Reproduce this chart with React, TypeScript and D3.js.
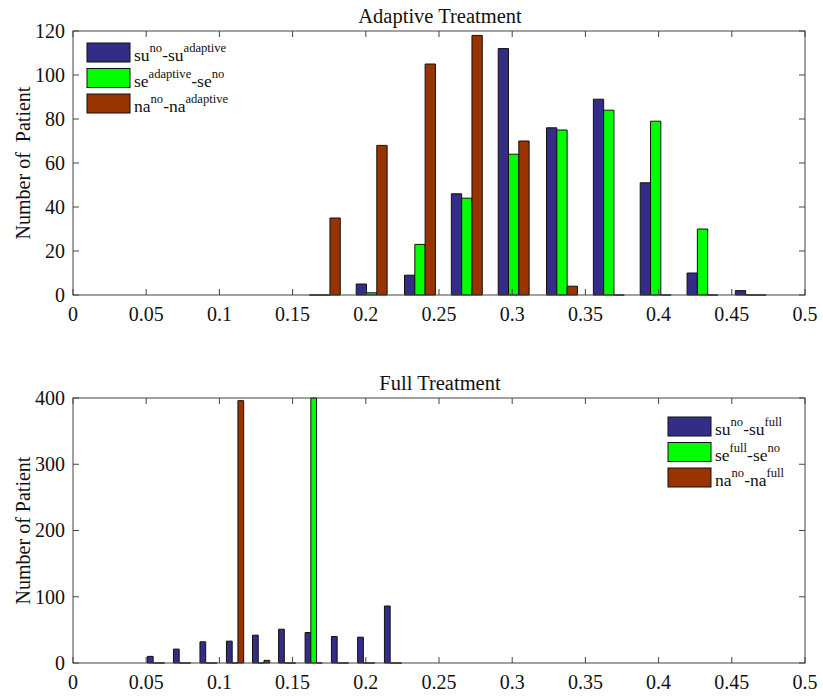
import React, { useRef, useEffect } from 'react';
import * as d3 from 'd3';

// bin centres and counts (400 patients per series)
const adaptiveBins = [0.172, 0.204, 0.237, 0.269, 0.301, 0.334, 0.366, 0.398, 0.430, 0.463];
const adaptiveSu = [0, 5, 9, 46, 112, 76, 89, 51, 10, 2];
const adaptiveSe = [0, 1, 23, 44, 64, 75, 84, 79, 30, 0];
const adaptiveNa = [35, 68, 105, 118, 70, 4, 0, 0, 0, 0];

const fullBins = [0.0567, 0.0745, 0.0926, 0.1107, 0.1285, 0.1463, 0.1644, 0.1824, 0.2003, 0.2186];
const fullSu = [10, 21, 32, 33, 42, 51, 46, 40, 39, 86];
const fullSe = [0, 0, 0, 0, 0, 0, 400, 0, 0, 0];
const fullNa = [0, 0, 0, 396, 4, 0, 0, 0, 0, 0];

const xTicks = [0, 0.05, 0.1, 0.15, 0.2, 0.25, 0.3, 0.35, 0.4, 0.45, 0.5];
const xTickLabels = ['0', '0.05', '0.1', '0.15', '0.2', '0.25', '0.3', '0.35', '0.4', '0.45', '0.5'];
const adaptiveYTicks = [0, 20, 40, 60, 80, 100, 120];
const fullYTicks = [0, 100, 200, 300, 400];

const adaptiveLegend = [
  ['su', 'no', '-su', 'adaptive'],
  ['se', 'adaptive', '-se', 'no'],
  ['na', 'no', '-na', 'adaptive'],
];
const fullLegend = [
  ['su', 'no', '-su', 'full'],
  ['se', 'full', '-se', 'no'],
  ['na', 'no', '-na', 'full'],
];

const colors = ['#332d88', '#00ff00', '#993300'];
const FONT = "'Liberation Serif', 'DejaVu Serif', serif";

const App = () => {
  const svgRef = useRef(null);

  useEffect(() => {
    const svg = d3.select(svgRef.current);
    svg.selectAll('*').remove();

    const left = 73, right = 805;
    const x = d3.scaleLinear().domain([0, 0.5]).range([left, right]);

    const drawPanel = (opts) => {
      const { top, bottom, yMax, yTicks, bins, series, title, ylabel, legend, legendX, legendY } = opts;
      const y = d3.scaleLinear().domain([0, yMax]).range([bottom, top]);
      const g = svg.append('g');

      // bars: 3 per bin, MATLAB grouped style
      const bw = (x(bins[1]) - x(bins[0])) * 0.22;
      series.forEach((vals, k) => {
        g.selectAll(null)
          .data(vals)
          .enter()
          .append('path')
          .attr('d', (v, i) => {
            const cx = x(bins[i]) + (k - 1) * bw;
            const x0 = cx - bw / 2;
            const yt = y(Math.min(v, yMax));
            return `M${x0},${bottom}H${x0 + bw}V${yt}H${x0}Z`;
          })
          .attr('fill', colors[k])
          .attr('stroke', '#111')
          .attr('stroke-width', 1);
      });

      // box
      g.append('rect')
        .attr('x', left).attr('y', top)
        .attr('width', right - left).attr('height', bottom - top)
        .attr('fill', 'none').attr('stroke', '#444').attr('stroke-width', 1);

      const tl = 6;
      // x ticks (bottom and top, inward)
      xTicks.forEach((t, i) => {
        g.append('line').attr('x1', x(t)).attr('x2', x(t)).attr('y1', bottom).attr('y2', bottom - tl)
          .attr('stroke', '#444');
        g.append('line').attr('x1', x(t)).attr('x2', x(t)).attr('y1', top).attr('y2', top + tl)
          .attr('stroke', '#444');
        g.append('text')
          .attr('x', x(t)).attr('y', bottom + 26)
          .attr('text-anchor', 'middle')
          .attr('font-family', FONT).attr('font-size', 20).attr('fill', '#111')
          .text(xTickLabels[i]);
      });

      // y ticks
      yTicks.forEach((t) => {
        g.append('line').attr('x1', left).attr('x2', left + tl).attr('y1', y(t)).attr('y2', y(t))
          .attr('stroke', '#444');
        g.append('line').attr('x1', right).attr('x2', right - tl).attr('y1', y(t)).attr('y2', y(t))
          .attr('stroke', '#444');
        g.append('text')
          .attr('x', left - 8).attr('y', y(t)).attr('dy', '0.34em')
          .attr('text-anchor', 'end')
          .attr('font-family', FONT).attr('font-size', 20).attr('fill', '#111')
          .text(t);
      });

      // title
      g.append('text')
        .attr('x', (left + right) / 2 + 1).attr('y', top - 8)
        .attr('text-anchor', 'middle')
        .attr('font-family', FONT).attr('font-size', 20.5).attr('fill', '#111')
        .text(title);

      // y label
      g.append('text')
        .attr('transform', `translate(30,${(top + bottom) / 2}) rotate(-90)`)
        .attr('text-anchor', 'middle')
        .attr('font-family', FONT).attr('font-size', 20).attr('fill', '#111')
        .style('white-space', 'pre')
        .text(ylabel);

      // legend
      legend.forEach((parts, i) => {
        const ly = legendY + i * 25.5;
        g.append('rect')
          .attr('x', legendX).attr('y', ly)
          .attr('width', 43).attr('height', 19)
          .attr('fill', colors[i]).attr('stroke', '#111').attr('stroke-width', 1);
        const txt = g.append('text')
          .attr('x', legendX + 47).attr('y', ly + 18)
          .attr('font-family', FONT).attr('fill', '#111');
        txt.append('tspan').attr('font-size', 17.5).text(parts[0]);
        txt.append('tspan').attr('dy', -9).attr('font-size', 12.6).text(parts[1]);
        txt.append('tspan').attr('dy', 9).attr('font-size', 17.5).text(parts[2]);
        txt.append('tspan').attr('dy', -9).attr('font-size', 12.6).text(parts[3]);
      });
    };

    drawPanel({
      top: 31, bottom: 295, yMax: 120, yTicks: adaptiveYTicks,
      bins: adaptiveBins, series: [adaptiveSu, adaptiveSe, adaptiveNa],
      title: 'Adaptive Treatment', ylabel: 'Number of  Patient',
      legend: adaptiveLegend, legendX: 87, legendY: 43,
    });
    drawPanel({
      top: 398, bottom: 663, yMax: 400, yTicks: fullYTicks,
      bins: fullBins, series: [fullSu, fullSe, fullNa],
      title: 'Full Treatment', ylabel: 'Number of Patient',
      legend: fullLegend, legendX: 668, legendY: 417,
    });
  }, []);

  return (
    <svg
      ref={svgRef}
      width={823}
      height={700}
      style={{ position: 'absolute', left: 0, top: 0, background: '#fff' }}
    />
  );
};

export default App;
